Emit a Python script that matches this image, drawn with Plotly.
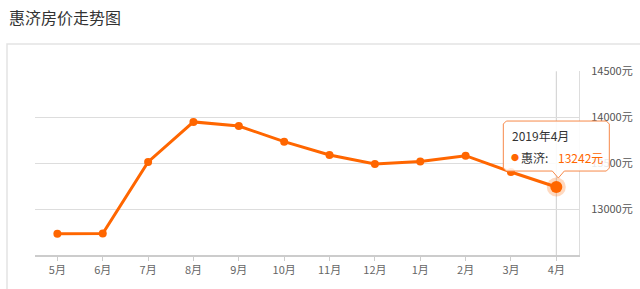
import plotly.graph_objects as go

months = ["5月", "6月", "7月", "8月", "9月", "10月", "11月", "12月", "1月", "2月", "3月", "4月"]
prices = [12735, 12737, 13515, 13950, 13905, 13735, 13590, 13492, 13520, 13583, 13405, 13242]
y_ticks = [13000, 13500, 14000, 14500]
y_range = [12500, 14500]
title_text = "惠济房价走势图"
series_name = "惠济"
tooltip_year = "2019年"

ORANGE = "#ff6600"
FONT = "Microsoft YaHei, Noto Sans CJK SC, sans-serif"
W, H = 640, 289

fig = go.Figure()
fig.add_trace(go.Scatter(
    x=months, y=prices, mode="lines+markers",
    line=dict(color=ORANGE, width=3),
    marker=dict(color=ORANGE, size=8),
    hoverinfo="skip", showlegend=False,
))
# highlighted last point (halo + dot)
fig.add_trace(go.Scatter(
    x=[months[-1]], y=[prices[-1]], mode="markers",
    marker=dict(color="rgba(255,102,0,0.25)", size=19),
    hoverinfo="skip", showlegend=False,
))
fig.add_trace(go.Scatter(
    x=[months[-1]], y=[prices[-1]], mode="markers",
    marker=dict(color=ORANGE, size=12),
    hoverinfo="skip", showlegend=False,
))

x0d, x1d = 34.7 / W, 579.0 / W
y0d, y1d = (H - 255.3) / H, (H - 71.3) / H

# paper position of the highlighted point (for the tooltip decoration)
n = len(months)
ax_px = x0d + (n - 1 + 0.5) / n * (x1d - x0d)
ay_px = y0d + (prices[-1] - y_range[0]) / (y_range[1] - y_range[0]) * (y1d - y0d)

shapes = [
    # card border
    dict(type="rect", xref="paper", yref="paper",
         x0=7 / W, x1=660 / W, y0=-0.2, y1=1 - 44 / H,
         line=dict(color="#e3e3e3", width=1.5), fillcolor="rgba(0,0,0,0)", layer="below"),
    # crosshair
    dict(type="line", xref="x", yref="y domain", x0=months[-1], x1=months[-1], y0=0, y1=1,
         line=dict(color="#cfcfcf", width=1), layer="below"),
    # tooltip box with pointer (pixel offsets from the highlighted point)
    dict(type="path", xref="paper", yref="paper", xsizemode="pixel", ysizemode="pixel",
         xanchor=ax_px, yanchor=ay_px,
         path="M -50,66 L 50,66 L 53,63 L 53,19 L 50,16 L 8,16 L 2,9 L -4,16 "
              "L -50,16 L -53,19 L -53,63 Z",
         line=dict(color="#f7894a", width=1), fillcolor="rgba(255,255,255,0.88)", layer="above"),
]

annotations = [
    dict(text=title_text, xref="paper", yref="paper", x=7 / W, y=1 - 17 / H,
         xanchor="left", yanchor="middle", showarrow=False,
         font=dict(family=FONT, size=16, color="#333333")),
    dict(text=f"{tooltip_year}{months[-1]}", xref="x", yref="y", x=months[-1], y=prices[-1],
         xshift=-46.5, yshift=52, xanchor="left", yanchor="middle", showarrow=False,
         font=dict(family=FONT, size=12, color="#333333")),
    dict(text="●", xref="x", yref="y", x=months[-1], y=prices[-1],
         xshift=-47, yshift=30, xanchor="left", yanchor="middle", showarrow=False,
         font=dict(family=FONT, size=8, color=ORANGE)),
    dict(text=f"{series_name}:", xref="x", yref="y", x=months[-1], y=prices[-1],
         xshift=-37, yshift=30, xanchor="left", yanchor="middle", showarrow=False,
         font=dict(family=FONT, size=12, color="#333333")),
    dict(text=f"{prices[-1]}元", xref="x", yref="y", x=months[-1], y=prices[-1],
         xshift=0, yshift=30, xanchor="left", yanchor="middle", showarrow=False,
         font=dict(family=FONT, size=12, color=ORANGE)),
]

fig.update_layout(
    width=W, height=H, margin=dict(l=0, r=0, t=0, b=0, pad=0, autoexpand=False),
    paper_bgcolor="white", plot_bgcolor="white",
    font=dict(family=FONT, size=11, color="#666666"),
    shapes=shapes, annotations=annotations,
    xaxis=dict(type="category", domain=[x0d, x1d], range=[-0.5, n - 0.5],
               automargin=False,
               showgrid=False, showline=True, linecolor="#cccccc", linewidth=1.5,
               ticks="outside", ticklen=4, tickcolor="#cccccc",
               tickfont=dict(size=11, color="#666666"), zeroline=False, fixedrange=True),
    yaxis=dict(domain=[y0d, y1d], range=y_range, side="right", automargin=False,
               tickvals=y_ticks, ticktext=[f"{v}元" for v in y_ticks],
               showgrid=True, gridcolor="#dddddd", gridwidth=1,
               showline=True, linecolor="#dddddd", linewidth=1,
               ticks="", ticklabelstandoff=9,
               tickfont=dict(size=11, color="#555555"), zeroline=False, fixedrange=True),
)

fig.write_html("out.html")
